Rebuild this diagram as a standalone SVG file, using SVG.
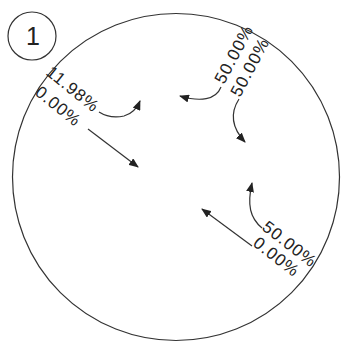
<svg xmlns="http://www.w3.org/2000/svg" width="343" height="344" viewBox="0 0 343 344">
<defs>
<marker id="ah" viewBox="0 0 10 8" refX="9" refY="4" markerWidth="10" markerHeight="8" markerUnits="userSpaceOnUse" orient="auto">
<path d="M0,0 L10,4 L0,8 Z" fill="#222"/>
</marker>
<style>
.lbl{font-family:"Liberation Sans",Arial,sans-serif;font-size:17px;letter-spacing:1px;fill:#222}
.c{fill:none;stroke:#333;stroke-width:1.2}
.a{fill:none;stroke:#333;stroke-width:1.2;marker-end:url(#ah)}
</style>
</defs>
<rect width="343" height="344" fill="#fff"/>
<g id="boundary"><circle class="c" cx="176" cy="177" r="163.5"/></g>
<g id="badge">
<circle class="c" cx="32" cy="36" r="24"/>
<text x="33" y="45" text-anchor="middle" style="font-family:'Liberation Sans',Arial,sans-serif;font-size:25px;fill:#222">1</text>
</g>
<g id="label-ul">
<text class="lbl" transform="translate(45,74) rotate(39)">11.98%</text>
<text class="lbl" transform="translate(34,94) rotate(39)">0.00%</text>
</g>
<g id="label-ur">
<text class="lbl" transform="translate(224,85) rotate(-62)">50.00%</text>
<text class="lbl" transform="translate(240,98) rotate(-62)">50.00%</text>
</g>
<g id="label-lr">
<text class="lbl" transform="translate(261,229) rotate(38)">50.00%</text>
<text class="lbl" transform="translate(252,245) rotate(38)">0.00%</text>
</g>
<g id="connectors">
<path class="a" d="M99,112 Q110,119 124,116 Q135,113 140,101"/>
<path class="a" d="M88,129 L138,167"/>
<path class="a" d="M221,87 C216,100 200,102 180,96"/>
<path class="a" d="M239,99 C230,113 232,128 245,142"/>
<path class="a" d="M262,228 C250,218 247,205 252,183"/>
<path class="a" d="M252,246 L202,209"/>
</g>
</svg>
